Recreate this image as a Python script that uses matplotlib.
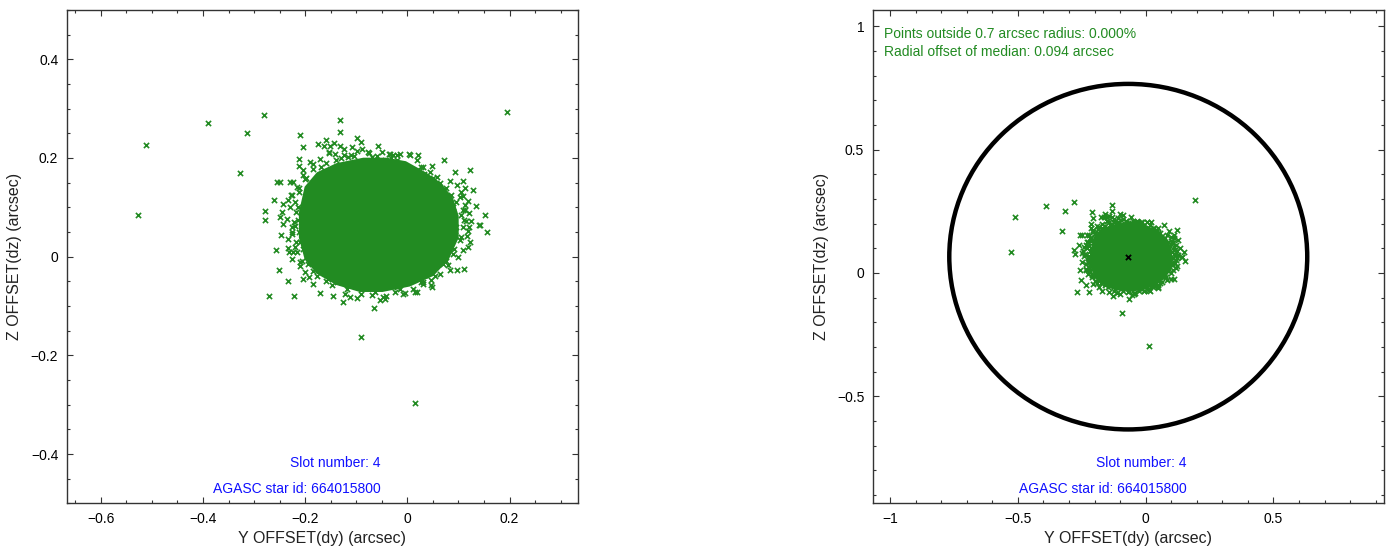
"""
Star centroid offsets for slot 4: raw scatter (left) and scatter with the
0.7 arcsec radius circle around the median (right).
"""

import matplotlib
matplotlib.use("Agg")
import matplotlib.pyplot as plt
from matplotlib.patches import Circle
from matplotlib.ticker import FuncFormatter, MultipleLocator

plt.rcParams["font.family"] = ["Liberation Sans", "DejaVu Sans"]

# individual offsets (dy, dz) in arcsec
point_dy = [
    0.194, -0.512, -0.527, -0.390, -0.281, -0.314, -0.327, -0.131, -0.132, -0.211,
    -0.205, -0.091, 0.014, -0.270, -0.221, -0.279, -0.278, -0.261, -0.258, -0.251,
    -0.234, 0.155, 0.151, 0.134, 0.123, 0.128, 0.071, 0.093, 0.122, 0.098,
    0.084, 0.049, 0.018, -0.066, -0.126, -0.099, -0.171, -0.184, 0.004, 0.021,
    -0.034, -0.057, -0.090, -0.099, -0.175, -0.159, -0.143, -0.153, -0.213, -0.256,
    -0.250, -0.230, -0.223, 0.125, 0.143, 0.110, 0.108, 0.026, -0.005, -0.044,
    -0.054, 0.108, 0.121,
    -0.164, -0.190, -0.184, -0.212, -0.205, -0.216, -0.243, -0.233, -0.226, -0.151,
    -0.132, -0.153, -0.125, -0.124, -0.109, -0.098, -0.036, -0.028, -0.033, 0.048,
    0.027, 0.033, 0.018, -0.005, 0.011, -0.044, -0.021, -0.077, -0.070, -0.142,
    -0.116, -0.250, -0.243, -0.248, -0.233, -0.226, -0.233, -0.223, -0.205, -0.210,
    -0.200, -0.176, -0.155, -0.216, -0.207, -0.194, -0.210, -0.220, -0.236, -0.246,
    -0.148, -0.138, -0.145, -0.122, -0.112, -0.064, -0.047, -0.041, -0.008, 0.014,
    0.031, 0.047, 0.034, -0.155, -0.132, -0.096, -0.077, -0.057, -0.031, -0.021,
    0.001, 0.141, 0.118, 0.063, 0.047, 0.102, 0.109, 0.115, 0.096, 0.102,
    0.089, 0.076, 0.109, 0.083, 0.057, 0.044, 0.031, 0.018, 0.005, -0.015,
    -0.215, -0.212, -0.198, -0.170, -0.140, -0.105, -0.060, -0.020, 0.020, 0.090,
    0.092, 0.090, 0.075, 0.060, 0.070, 0.050, 0.020, -0.020, -0.060, -0.100,
    -0.135, -0.165, -0.188, -0.205, -0.212, -0.215,
    -0.200, -0.185, -0.160, -0.130, -0.110, -0.075, -0.050, -0.020, 0.050, 0.075,
    0.095, 0.105, 0.108, 0.104, 0.092, 0.070, 0.055, 0.030, 0.010, -0.025,
    -0.070, -0.090, -0.118, -0.160, -0.185, -0.210, -0.220, -0.225, -0.222, -0.220,
    -0.213, -0.205, -0.088, 0.064, -0.172, 0.112, -0.015, -0.192,
    0.112, 0.118, 0.121, 0.116, 0.110, 0.104, 0.098, 0.113, 0.119, 0.100,
    0.086, 0.094, 0.080, -0.228, -0.230, -0.226, -0.218, -0.232, -0.218, -0.226,
]
point_dz = [
    0.294, 0.227, 0.085, 0.271, 0.288, 0.250, 0.170, 0.276, 0.253, 0.247,
    0.222, -0.162, -0.296, -0.079, -0.079, 0.093, 0.075, 0.115, 0.013, -0.027,
    -0.049, 0.049, 0.084, 0.103, 0.175, 0.135, 0.195, 0.171, 0.030, -0.026,
    -0.027, -0.062, -0.072, -0.104, -0.092, -0.084, -0.074, -0.056, 0.207, 0.205,
    0.209, 0.225, 0.233, 0.240, 0.228, 0.237, 0.230, 0.210, 0.198, 0.152,
    0.152, 0.152, 0.152, 0.072, 0.064, -0.025, 0.013, -0.052, -0.074, -0.086,
    -0.088, 0.122, 0.088,
    0.225, 0.191, 0.188, 0.184, 0.175, 0.141, 0.107, 0.114, 0.124, 0.225,
    0.225, 0.212, 0.219, 0.206, 0.222, 0.214, 0.208, 0.206, 0.200, 0.183,
    0.181, 0.168, 0.175, 0.178, 0.175, 0.195, 0.188, 0.212, 0.202, 0.208,
    0.202, 0.081, 0.067, 0.044, 0.036, 0.050, 0.017, 0.009, -0.046, -0.018,
    -0.031, -0.040, -0.045, 0.009, -0.008, -0.014, 0.029, 0.063, 0.077, 0.090,
    -0.058, -0.052, -0.079, -0.075, -0.082, -0.072, -0.082, -0.080, -0.075, -0.071,
    -0.052, -0.058, -0.038, -0.038, -0.041, -0.045, -0.058, -0.055, -0.048, -0.062,
    -0.052, 0.065, 0.051, -0.035, -0.048, 0.121, 0.094, 0.073, 0.060, 0.033,
    0.006, -0.008, 0.154, 0.154, 0.161, 0.171, 0.181, 0.195, 0.205, 0.208,
    0.100, 0.130, 0.160, 0.182, 0.196, 0.203, 0.203, 0.196, 0.170, 0.100,
    0.075, 0.040, 0.015, 0.140, 0.125, -0.025, -0.042, -0.055, -0.058, -0.052,
    -0.035, -0.020, -0.002, 0.015, 0.050, 0.075,
    0.158, 0.178, 0.190, 0.200, 0.205, 0.210, 0.212, 0.205, 0.160, 0.140,
    0.110, 0.085, 0.060, 0.040, 0.015, -0.015, -0.040, -0.055, -0.065, -0.072,
    -0.078, -0.075, -0.065, -0.050, -0.030, -0.010, 0.020, 0.045, 0.070, 0.110,
    0.140, 0.165, 0.218, 0.150, 0.198, 0.105, -0.066, -0.042,
    0.140, 0.112, 0.060, 0.042, 0.075, 0.130, 0.145, 0.095, 0.020, 0.000,
    0.125, 0.052, -0.016, 0.125, 0.100, 0.060, 0.030, 0.010, 0.090, -0.005,
]

# outline of the region where the points overlap into a solid patch
core_dy = [
    -0.198, -0.175, -0.138, -0.086, -0.041, -0.004, 0.034, 0.063, 0.086, 0.097,
    0.097, 0.078, 0.049, 0.004, -0.049, -0.093, -0.138, -0.175, -0.198, -0.209,
    -0.209,
]
core_dz = [
    0.140, 0.168, 0.186, 0.197, 0.197, 0.190, 0.168, 0.147, 0.118, 0.082,
    0.039, -0.004, -0.036, -0.057, -0.068, -0.068, -0.054, -0.032, -0.004, 0.039,
    0.089,
]

median_dy = -0.068
median_dz = 0.066
radius = 0.7

slot_text = "Slot number: 4"
star_text = "AGASC star id: 664015800"
outside_text = "Points outside 0.7 arcsec radius: 0.000%"
offset_text = "Radial offset of median: 0.094 arcsec"

GREEN = "#228b22"
BLUE = "#1010ff"


def fmt(v, pos):
    s = f"{round(v, 6):g}"
    if s == "-0":
        s = "0"
    return s.replace("-", "\u2212")


def style_axes(ax, major, minor):
    ax.xaxis.set_major_locator(MultipleLocator(major))
    ax.yaxis.set_major_locator(MultipleLocator(major))
    ax.xaxis.set_minor_locator(MultipleLocator(minor))
    ax.yaxis.set_minor_locator(MultipleLocator(minor))
    ax.xaxis.set_major_formatter(FuncFormatter(fmt))
    ax.yaxis.set_major_formatter(FuncFormatter(fmt))
    ax.tick_params(which="both", direction="in", top=True, right=True,
                   labelsize=10, width=0.8, color="#333333")
    ax.tick_params(which="major", length=4.5, pad=6)
    ax.tick_params(which="minor", length=2.5)
    for sp in ax.spines.values():
        sp.set_linewidth(1.0)
        sp.set_color("#333333")
    ax.set_xlabel("Y OFFSET(dy) (arcsec)", fontsize=11.5, color="#222222", labelpad=4)
    ax.set_ylabel("Z OFFSET(dz) (arcsec)", fontsize=11.5, color="#222222", labelpad=6)


def draw_points(ax):
    ax.fill(core_dy, core_dz, facecolor=GREEN, edgecolor=GREEN, linewidth=2.5, zorder=2)
    ax.scatter(point_dy, point_dz, marker="x", s=14, linewidths=1.2,
               color=GREEN, zorder=3)
    ax.text(0.614, 0.082, slot_text, transform=ax.transAxes, ha="right",
            va="center", fontsize=10, color=BLUE)
    ax.text(0.614, 0.029, star_text, transform=ax.transAxes, ha="right",
            va="center", fontsize=10, color=BLUE)


fig = plt.figure(figsize=(13.93, 5.54), dpi=100)
ax1 = fig.add_axes([0.0478, 0.0912, 0.3668, 0.891])
ax2 = fig.add_axes([0.6264, 0.0912, 0.3671, 0.891])

draw_points(ax1)
ax1.set_xlim(-0.667, 0.333)
ax1.set_ylim(-0.5, 0.5)
style_axes(ax1, 0.2, 0.05)

draw_points(ax2)
ax2.add_patch(Circle((median_dy, median_dz), radius, fill=False,
                     edgecolor="black", linewidth=3.2, zorder=4))
ax2.scatter([median_dy], [median_dz], marker="x", s=14, linewidths=1.3,
            color="black", zorder=5)
ax2.text(0.0215, 0.951, outside_text, transform=ax2.transAxes, ha="left",
         va="center", fontsize=10, color=GREEN)
ax2.text(0.0215, 0.914, offset_text, transform=ax2.transAxes, ha="left",
         va="center", fontsize=10, color=GREEN)
ax2.set_xlim(median_dy - 1.0, median_dy + 1.0)
ax2.set_ylim(median_dz - 1.0, median_dz + 1.0)
style_axes(ax2, 0.5, 0.1)

fig.savefig("out.png", dpi=100)
plt.close(fig)
